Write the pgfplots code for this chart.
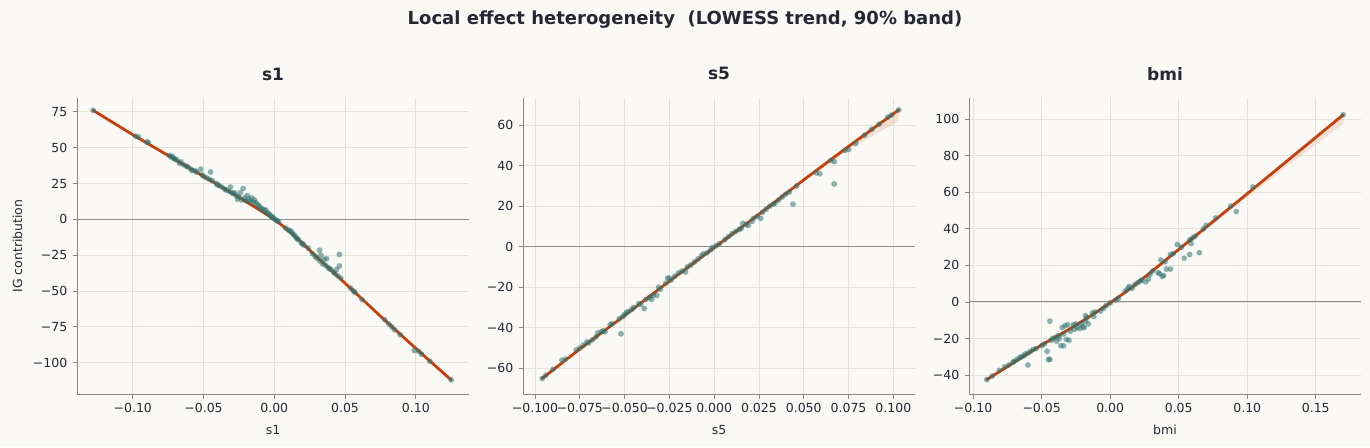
\documentclass[border=0pt]{standalone}
\usepackage{fontspec}
\setmainfont{DejaVu Sans}
\usepackage{pgfplots}
\pgfplotsset{compat=1.18}
\usepackage{pgfplotstable}
\usepgfplotslibrary{fillbetween}

\definecolor{bg}{HTML}{FAF9F6}
\definecolor{ink}{HTML}{252833}
\definecolor{spine}{HTML}{8C857B}
\definecolor{gridc}{HTML}{E5E2DA}
\definecolor{zeroc}{HTML}{8F8D84}
\definecolor{dotc}{HTML}{2E7370}
\definecolor{trend}{HTML}{C2410C}
\definecolor{bandc}{HTML}{EBA487}

\newcommand\tickfont{\fontsize{12.5}{15}\selectfont}
\newcommand\titlefont{\fontsize{17}{20}\selectfont\bfseries}
\newcommand\supfont{\fontsize{18}{21}\selectfont\bfseries}

% ---------- s1 ----------
\pgfplotstableread{
x y
-0.128 76
-0.098 58
-0.096 57.5
-0.090 54
-0.089 53.5
-0.074 44.5
-0.073 43.5
-0.072 44
-0.071 42.5
-0.070 42
-0.069 41.5
-0.067 39
-0.066 40
-0.064 38
-0.062 37
-0.061 36.5
-0.059 35
-0.058 34
-0.056 34
-0.055 33
-0.052 35
-0.051 31
-0.050 30
-0.048 29
-0.046 28
-0.045 33
-0.044 27
-0.041 25
-0.040 24
-0.039 23.5
-0.037 22.5
-0.035 21
-0.034 20.5
-0.031 22.5
-0.032 19.5
-0.030 18.5
-0.029 18
-0.028 18.5
-0.027 16.5
-0.026 14
-0.025 15.5
-0.024 18.5
-0.023 13.5
-0.022 21.5
-0.021 15
-0.020 13
-0.019 16.5
-0.018 14
-0.017 12.5
-0.016 15
-0.015 12
-0.014 13.5
-0.013 11.5
-0.012 10.5
-0.011 9.5
-0.010 8.5
-0.009 7.5
-0.008 7
-0.007 6
-0.006 6.5
-0.005 4.5
-0.004 4
-0.003 3
-0.002 2
-0.001 1.5
0.000 0.5
0.001 -0.5
0.002 -1
0.003 -1.5
0.008 -6
0.010 -7.5
0.011 -8
0.012 -8.5
0.013 -10
0.014 -11
0.015 -12
0.016 -13.5
0.017 -14
0.019 -16.5
0.020 -17
0.021 -18
0.024 -20
0.027 -24
0.029 -26
0.030 -27
0.032 -21.5
0.032 -29
0.033 -25
0.034 -31
0.035 -28
0.036 -32
0.037 -27.5
0.038 -33.5
0.039 -34.5
0.040 -35
0.042 -37
0.043 -38
0.044 -35
0.045 -39.5
0.046 -32.5
0.046 -24.5
0.047 -41
0.054 -48
0.056 -50
0.057 -51
0.062 -56
0.078 -70
0.081 -73
0.083 -75
0.085 -77
0.089 -80.5
0.099 -91.5
0.102 -92
0.104 -94
0.110 -99
0.125 -112
}\pointsA
\pgfplotstableread{
x y lo hi
-0.128 76 75 77
-0.100 59 58.3 59.7
-0.075 44.5 44 45
-0.050 30 29.6 30.4
-0.025 15.5 15.1 15.9
-0.012 7.5 7.2 7.8
-0.004 2.5 2.2 2.8
0.004 -3 -3.3 -2.7
0.012 -9.5 -9.8 -9.2
0.025 -21.5 -21.9 -21.1
0.050 -44.5 -45 -44
0.075 -67.5 -68.1 -66.9
0.100 -90 -90.8 -89.2
0.125 -112 -113.2 -110.8
}\trendA

% ---------- s5 ----------
\pgfplotstableread{
x y
-0.096 -65
-0.094 -63.5
-0.090 -60.5
-0.085 -56
-0.083 -55.5
-0.077 -51
-0.075 -50
-0.073 -48.5
-0.071 -47
-0.070 -47.5
-0.068 -46
-0.066 -44.5
-0.065 -42.5
-0.063 -42
-0.062 -41.5
-0.061 -42
-0.058 -38.5
-0.057 -38
-0.053 -35.5
-0.052 -43
-0.051 -34.5
-0.050 -33.5
-0.049 -32.5
-0.048 -32
-0.046 -31
-0.045 -30
-0.042 -28
-0.041 -28.5
-0.039 -30.5
-0.038 -26
-0.036 -25
-0.035 -26
-0.034 -24
-0.032 -24
-0.031 -20
-0.030 -21
-0.027 -18
-0.026 -15.5
-0.025 -15.5
-0.024 -16.5
-0.022 -14.5
-0.020 -13
-0.018 -12
-0.016 -12.5
-0.015 -10
-0.013 -9
-0.011 -7.5
-0.009 -6
-0.007 -4.5
-0.006 -3.5
-0.004 -3
-0.002 -1.5
-0.001 -0.5
0.001 0.5
0.003 1.5
0.006 3.5
0.008 5
0.010 6.5
0.012 7.5
0.014 8.5
0.015 9
0.016 11.5
0.018 11
0.019 10.5
0.021 12.5
0.022 14
0.024 15
0.026 14
0.027 17
0.029 18.5
0.031 20
0.033 21
0.034 21.5
0.036 23
0.038 24.5
0.040 26
0.042 27
0.044 21
0.046 30
0.057 36.5
0.059 36
0.065 42.5
0.067 31
0.067 42
0.073 47.5
0.075 48
0.079 51
0.084 55
0.088 58
0.092 60.5
0.097 64
0.099 65
0.103 67.5
}\pointsB
\pgfplotstableread{
x y lo hi
-0.096 -65 -65.8 -64.4
-0.075 -50.5 -51 -50
-0.050 -34 -34.4 -33.6
-0.025 -17 -17.3 -16.7
0.000 -0.5 -0.8 -0.2
0.025 16 15.6 16.4
0.050 33 32.2 33.6
0.075 49.5 47.8 50.2
0.103 67.5 62 68.3
}\trendB

% ---------- bmi ----------
\pgfplotstableread{
x y
-0.090 -42.5
-0.086 -40.5
-0.081 -37.5
-0.077 -35.5
-0.074 -34.5
-0.071 -33
-0.070 -32.5
-0.068 -31.5
-0.066 -30.5
-0.065 -30
-0.063 -29.5
-0.062 -28.5
-0.060 -34.5
-0.060 -28
-0.058 -27
-0.056 -26
-0.054 -25.5
-0.050 -24
-0.048 -23
-0.046 -27
-0.045 -31.5
-0.044 -31.5
-0.044 -10.5
-0.043 -21
-0.042 -20
-0.040 -19.5
-0.039 -21.5
-0.038 -18.5
-0.037 -20
-0.036 -24
-0.035 -14
-0.034 -24
-0.034 -17.5
-0.033 -13
-0.032 -20.5
-0.031 -12.5
-0.030 -21
-0.029 -16
-0.027 -12.5
-0.026 -15
-0.025 -12
-0.024 -14
-0.022 -14.5
-0.021 -12
-0.020 -13.5
-0.019 -14
-0.018 -7.5
-0.018 -10.5
-0.017 -8.5
-0.016 -12
-0.013 -6
-0.012 -8
-0.011 -5.5
-0.007 -5
-0.005 -3.5
-0.003 -2
0.000 -0.5
0.004 1
0.006 2
0.011 6
0.013 7.5
0.014 8.5
0.016 7.5
0.018 9.5
0.020 10.5
0.022 11.5
0.023 12
0.026 11
0.028 12.5
0.029 15
0.031 17
0.035 16
0.036 15.5
0.037 23
0.038 14
0.039 14.5
0.040 22
0.041 18
0.044 18
0.044 26
0.046 26.5
0.049 31.5
0.052 30
0.054 24
0.058 26
0.058 34
0.059 32
0.060 35
0.062 36
0.065 27
0.068 40
0.070 42
0.077 46
0.088 52.5
0.092 49.5
0.104 63
0.170 102.5
}\pointsC
\pgfplotstableread{
x y lo hi
-0.090 -42.5 -43.3 -41.9
-0.070 -33 -33.5 -32.5
-0.050 -23.5 -24 -23
-0.030 -15 -15.4 -14.6
-0.015 -8 -8.3 -7.7
0.000 -0.5 -0.8 -0.2
0.015 7.5 7.1 7.9
0.030 16.5 15.9 17
0.050 28.8 27.8 29.4
0.075 44 42.6 44.7
0.100 59.3 57.3 60
0.130 77.8 75 78.6
0.170 102.5 97.5 103.4
}\trendC

\pgfplotsset{
  panel/.style={
    scale only axis, width=392pt, height=296pt, anchor=south west,
    axis lines=left,
    axis line style={-, draw=spine, line width=0.9pt},
    grid=major, grid style={draw=gridc, line width=0.9pt},
    tick align=outside, major tick length=4.5pt,
    tick style={draw=spine, line width=0.9pt},
    ticklabel style={font=\tickfont, text=ink},
    xticklabel style={inner sep=0pt, yshift=-5pt},
    yticklabel style={inner sep=0pt, xshift=-5pt},
    label style={font=\tickfont, text=ink},
    xlabel style={at={(axis description cs:0.5,-0.1385)}, anchor=base, inner sep=0pt},
    ylabel style={at={(axis description cs:-0.140,0.5)}, anchor=base, inner sep=0pt},
    title style={at={(axis description cs:0.5,1.0405)}, anchor=base, font=\titlefont, text=ink, inner sep=0pt},
  },
  dots/.style={only marks, mark=*, mark size=2.9pt,
    mark options={draw opacity=0, fill=dotc, fill opacity=0.55}},
  band/.style={fill=bandc, fill opacity=0.3, draw=none},
  trendline/.style={draw=trend, line width=2.8pt, no marks, line join=round, line cap=round},
  zeroline/.style={draw=zeroc, line width=1pt, no marks},
}

\begin{document}
\pagecolor{bg}%
\begin{tikzpicture}
\path (0pt,0pt) rectangle (1370pt,447pt);

\node[font=\supfont, text=ink, anchor=base] at (685pt,422.5pt)
  {Local effect heterogeneity\ \ (LOWESS trend, 90\% band)};

% s1
\begin{axis}[panel, at={(77pt,53pt)},
  xmin=-0.1394, xmax=0.1376, ymin=-121.8, ymax=84.6,
  xtick={-0.10,-0.05,0,0.05,0.10},
  xticklabels={−0.10,−0.05,0.00,0.05,0.10},
  ytick={-100,-75,-50,-25,0,25,50,75},
  yticklabels={−100,−75,−50,−25,0,25,50,75},
  title={s1}, xlabel={s1}, ylabel={IG contribution}]
  \addplot[zeroline] coordinates {(-0.1394,0) (0.1376,0)};
  \addplot[dots] table[x=x,y=y] {\pointsA};
  \addplot[name path=hiA, draw=none, no marks] table[x=x,y=hi] {\trendA};
  \addplot[name path=loA, draw=none, no marks] table[x=x,y=lo] {\trendA};
  \addplot[band] fill between[of=hiA and loA];
  \addplot[trendline] table[x=x,y=y] {\trendA};
\end{axis}

% s5
\begin{axis}[panel, at={(523pt,53pt)},
  xmin=-0.1067, xmax=0.1121, ymin=-72.7, ymax=73.4,
  xtick={-0.100,-0.075,-0.050,-0.025,0,0.025,0.050,0.075,0.100},
  xticklabels={−0.100,−0.075,−0.050,−0.025,0.000,0.025,0.050,0.075,0.100},
  ytick={-60,-40,-20,0,20,40,60},
  yticklabels={−60,−40,−20,0,20,40,60},
  title={s5}, xlabel={s5}]
  \addplot[zeroline] coordinates {(-0.1067,0) (0.1121,0)};
  \addplot[dots] table[x=x,y=y] {\pointsB};
  \addplot[name path=hiB, draw=none, no marks] table[x=x,y=hi] {\trendB};
  \addplot[name path=loB, draw=none, no marks] table[x=x,y=lo] {\trendB};
  \addplot[band] fill between[of=hiB and loB];
  \addplot[trendline] table[x=x,y=y] {\trendB};
\end{axis}

% bmi
\begin{axis}[panel, at={(969pt,53pt)},
  xmin=-0.103, xmax=0.183, ymin=-50.4, ymax=111.7,
  xtick={-0.10,-0.05,0,0.05,0.10,0.15},
  xticklabels={−0.10,−0.05,0.00,0.05,0.10,0.15},
  ytick={-40,-20,0,20,40,60,80,100},
  yticklabels={−40,−20,0,20,40,60,80,100},
  title={bmi}, xlabel={bmi}]
  \addplot[zeroline] coordinates {(-0.103,0) (0.183,0)};
  \addplot[dots] table[x=x,y=y] {\pointsC};
  \addplot[name path=hiC, draw=none, no marks] table[x=x,y=hi] {\trendC};
  \addplot[name path=loC, draw=none, no marks] table[x=x,y=lo] {\trendC};
  \addplot[band] fill between[of=hiC and loC];
  \addplot[trendline] table[x=x,y=y] {\trendC};
\end{axis}
\end{tikzpicture}
\end{document}
